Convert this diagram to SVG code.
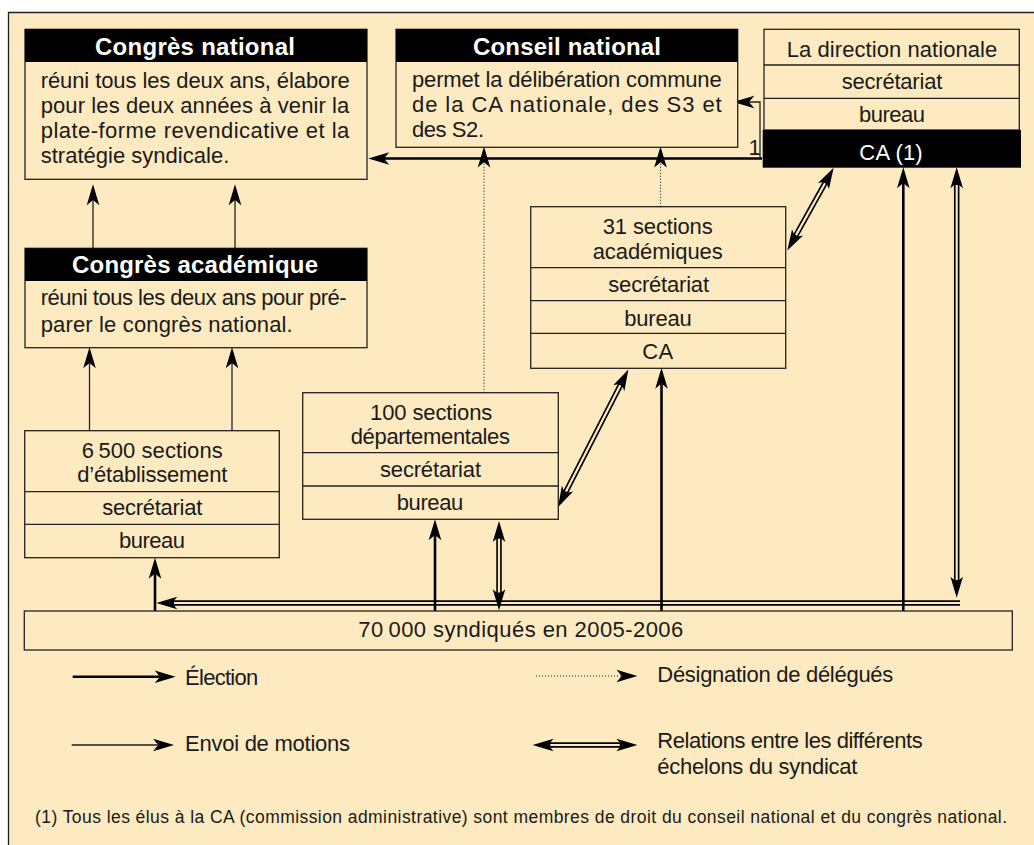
<svg xmlns="http://www.w3.org/2000/svg" xmlns:xlink="http://www.w3.org/1999/xlink" width="1034" height="845" viewBox="0 0 1034 845">
<style>
.bg{fill:#FDEAC0}
.box{fill:#FDEAC0;stroke:#222;stroke-width:1.3}
.sep{stroke:#222;stroke-width:1.3;fill:none}
.hdr{fill:#000}
.t{font-family:"Liberation Sans",Arial,sans-serif;font-size:22px;fill:#1a1a1a}
.tw{font-family:"Liberation Sans",Arial,sans-serif;font-size:22px;fill:#fff}
.th{font-family:"Liberation Sans",Arial,sans-serif;font-size:24px;font-weight:bold;fill:#fff}
.tf{font-family:"Liberation Sans",Arial,sans-serif;font-size:17.5px;fill:#1a1a1a}
.thick{fill:none;stroke:#000;stroke-width:2.6}
.thin{fill:none;stroke:#222;stroke-width:1.3}
.dot{fill:none;stroke:#222;stroke-width:1.1;stroke-dasharray:1 2}
.dblo{fill:none;stroke:#000;stroke-width:5.5}
.dbli{fill:none;stroke:#FDEAC0;stroke-width:2.2}
</style>
<defs>
<marker id="ae" markerUnits="userSpaceOnUse" markerWidth="22" markerHeight="14" refX="5" refY="6" orient="auto" viewBox="0 0 21 12" overflow="visible">
<path d="M0,0 L20,6 L0,12 L5,6 Z" fill="#000"/>
</marker>
<marker id="as" markerUnits="userSpaceOnUse" markerWidth="22" markerHeight="14" refX="5" refY="6" orient="auto-start-reverse" viewBox="0 0 21 12" overflow="visible">
<path d="M0,0 L20,6 L0,12 L5,6 Z" fill="#000"/>
</marker>
</defs>

<rect x="8" y="12" width="1030" height="840" class="bg"/>
<path d="M8.5,845 V12.5 H1034" class="sep"/>

<g id="connectors">
<!-- double relation along the bottom (drawn first so verticals cross it) -->
<path d="M960,603 H172" class="dblo" marker-end="url(#ae)"/>
<path d="M960,603 H174" class="dbli"/>
<!-- Election CA -> Congres national -->
<path d="M762,158.5 H384" class="thick" marker-end="url(#ae)"/>
<!-- CA -> Conseil national -->
<path d="M760,158 V102 H749" class="thin" marker-end="url(#ae)"/>
<!-- dotted designations -->
<path d="M484,392.7 V162.3" class="dot" marker-end="url(#ae)"/>
<path d="M660.5,206.7 V162.3" class="dot" marker-end="url(#ae)"/>
<!-- motions -->
<path d="M93,248.3 V200" class="thin" marker-end="url(#ae)"/>
<path d="M235,248.3 V200" class="thin" marker-end="url(#ae)"/>
<path d="M89.5,430.7 V363" class="thin" marker-end="url(#ae)"/>
<path d="M232,430.7 V363" class="thin" marker-end="url(#ae)"/>
<!-- elections from syndiques -->
<path d="M155,611 V573.5" class="thick" marker-end="url(#ae)"/>
<path d="M435,611 V535" class="thick" marker-end="url(#ae)"/>
<path d="M661.5,611 V383.5" class="thick" marker-end="url(#ae)"/>
<path d="M903.3,611 V183" class="thick" marker-end="url(#ae)"/>
<!-- double relations -->
<path d="M956.7,183 V582" class="dblo" marker-start="url(#as)" marker-end="url(#ae)"/>
<path d="M956.7,185 V580" class="dbli"/>
<path d="M499,536.7 V594.5" class="dblo" marker-start="url(#as)" marker-end="url(#ae)"/>
<path d="M499,538.7 V592.5" class="dbli"/>
<path d="M826,181.4 L795,236.9" class="dblo" marker-start="url(#as)" marker-end="url(#ae)"/>
<path d="M825,183.2 L796,235.1" class="dbli"/>
<path d="M621.2,383.4 L565.1,493.3" class="dblo" marker-start="url(#as)" marker-end="url(#ae)"/>
<path d="M620.3,385.2 L566,491.5" class="dbli"/>
</g>

<g id="congres-national">
<rect x="25" y="29.3" width="342" height="150" class="box"/>
<rect x="25" y="29.3" width="342" height="32.7" class="hdr"/>
<text x="95" y="55" class="th" textLength="200">Congrès national</text>
<text x="40.7" y="87.5" class="t" textLength="309">réuni tous les deux ans, élabore</text>
<text x="40.7" y="112.5" class="t" textLength="308.6">pour les deux années à venir la</text>
<text x="40.7" y="137.8" class="t" textLength="308.6">plate-forme revendicative et la</text>
<text x="40.7" y="163.3" class="t" textLength="188.6">stratégie syndicale.</text>
</g>

<g id="conseil-national">
<rect x="396" y="29.3" width="341.7" height="118" class="box"/>
<rect x="396" y="29.3" width="341.7" height="32.7" class="hdr"/>
<text x="473" y="55" class="th" textLength="188">Conseil national</text>
<text x="412" y="87" class="t" textLength="309.7">permet la délibération commune</text>
<text x="412" y="111.7" class="t" textLength="309.7">de la CA nationale, des S3 et</text>
<text x="412" y="136.7" class="t" textLength="72">des S2.</text>
</g>

<g id="direction-nationale">
<rect x="764" y="29.3" width="255.3" height="100.7" class="box"/>
<path d="M764,65 H1019.3 M764,98.3 H1019.3" class="sep"/>
<rect x="762.7" y="130" width="258.3" height="37.7" class="hdr"/>
<text x="786.7" y="56.7" class="t" textLength="210.6">La direction nationale</text>
<text x="841.7" y="89.3" class="t" textLength="100.6">secrétariat</text>
<text x="859" y="121.7" class="t" textLength="66">bureau</text>
<text x="859.3" y="160" class="tw" textLength="63.4">CA (1)</text>
<text x="748.5" y="155" class="t">1</text>
</g>

<g id="congres-academique">
<rect x="25" y="248.3" width="342" height="99.4" class="box"/>
<rect x="25" y="248.3" width="342" height="32.7" class="hdr"/>
<text x="72" y="273" class="th" textLength="246">Congrès académique</text>
<text x="40.7" y="305" class="t" textLength="306">réuni tous les deux ans pour pré-</text>
<text x="40.7" y="331.7" class="t" textLength="252">parer le congrès national.</text>
</g>

<g id="sections-academiques">
<rect x="530.7" y="206.7" width="255" height="161.6" class="box"/>
<path d="M530.7,267.7 H785.7 M530.7,300.7 H785.7 M530.7,333.3 H785.7" class="sep"/>
<text x="602.7" y="234.3" class="t" textLength="110">31 sections</text>
<text x="592.7" y="259" class="t" textLength="130">académiques</text>
<text x="608.3" y="292.3" class="t" textLength="100.7">secrétariat</text>
<text x="624.3" y="325.7" class="t" textLength="67.4">bureau</text>
<text x="642.3" y="359" class="t" textLength="31">CA</text>
</g>

<g id="sections-departementales">
<rect x="302.7" y="392.7" width="255.6" height="126.6" class="box"/>
<path d="M302.7,452.7 H558.3 M302.7,486 H558.3" class="sep"/>
<text x="370" y="420" class="t" textLength="122.3">100 sections</text>
<text x="350.7" y="444" class="t" textLength="159.3">départementales</text>
<text x="380" y="477.3" class="t" textLength="101">secrétariat</text>
<text x="396.7" y="510" class="t" textLength="66.6">bureau</text>
</g>

<g id="sections-etablissement">
<rect x="24.7" y="430.7" width="254.6" height="127" class="box"/>
<path d="M24.7,491.7 H279.3 M24.7,524.3 H279.3" class="sep"/>
<text x="81.7" y="458.3" class="t" textLength="141">6&#8201;500 sections</text>
<text x="77.3" y="482.3" class="t" textLength="150">d’établissement</text>
<text x="102.3" y="515" class="t" textLength="100">secrétariat</text>
<text x="119" y="548.3" class="t" textLength="66">bureau</text>
</g>

<g id="syndiques">
<rect x="24.3" y="611" width="988" height="39" class="box"/>
<text x="358.3" y="637" class="t" textLength="325">70&#8201;000 syndiqués en 2005-2006</text>
</g>

<g id="legend">
<path d="M72.7,676.7 H160" class="thick" marker-end="url(#ae)"/>
<text x="185" y="685" class="t" textLength="73.3">Élection</text>
<path d="M71.7,745 H158.3" class="thin" marker-end="url(#ae)"/>
<text x="185" y="751" class="t" textLength="165">Envoi de motions</text>
<path d="M536,676 H621.7" class="dot" marker-end="url(#ae)"/>
<text x="657.3" y="682.3" class="t" textLength="236">Désignation de délégués</text>
<path d="M548.3,745 H621.7" class="dblo" marker-start="url(#as)" marker-end="url(#ae)"/>
<path d="M550.3,745 H619.7" class="dbli"/>
<text x="657.3" y="747.7" class="t" textLength="265.4">Relations entre les différents</text>
<text x="657.3" y="774.3" class="t" textLength="200">échelons du syndicat</text>
</g>

<g id="footnote">
<text x="35" y="823" class="tf" textLength="972">(1) Tous les élus à la CA (commission administrative) sont membres de droit du conseil national et du congrès national.</text>
</g>
</svg>
